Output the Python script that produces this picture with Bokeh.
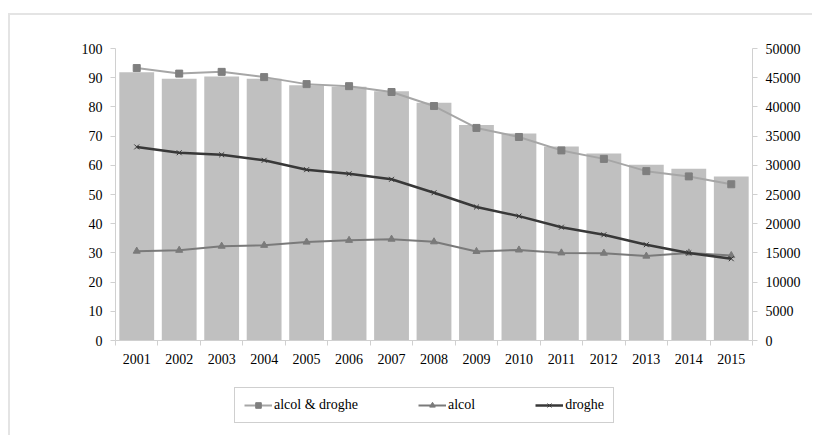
from bokeh.plotting import figure
from bokeh.layouts import column
from bokeh.models import Range1d, LinearAxis, FixedTicker, Legend, LegendItem
from bokeh.embed import file_html
from bokeh.resources import INLINE

years = [2001, 2002, 2003, 2004, 2005, 2006, 2007, 2008, 2009, 2010, 2011, 2012, 2013, 2014, 2015]
totale = [45950, 44800, 45200, 44800, 43700, 43450, 42700, 40700, 36900, 35450, 33200, 32000, 30100, 29400, 28100]
alcol_droghe = [93.3, 91.4, 92.0, 90.2, 87.8, 87.1, 85.1, 80.3, 72.8, 69.7, 65.1, 62.2, 58.0, 56.2, 53.5]
alcol = [30.6, 30.9, 32.3, 32.6, 33.7, 34.3, 34.7, 33.8, 30.5, 31.0, 30.0, 29.9, 28.9, 30.0, 29.1]
droghe = [66.3, 64.3, 63.6, 61.7, 58.5, 57.1, 55.2, 50.6, 45.7, 42.6, 38.8, 36.2, 32.8, 30.0, 28.0]
series_names = ["alcol & droghe", "alcol", "droghe"]
left_ticks = [0, 10, 20, 30, 40, 50, 60, 70, 80, 90, 100]
right_ticks = [0, 5000, 10000, 15000, 20000, 25000, 30000, 35000, 40000, 45000, 50000]

FONT = "'Liberation Serif', serif"

STYLES = [
    dict(line_color="#a6a6a6", line_width=2, marker="square", mcolor="#7f7f7f"),
    dict(line_color="#7a7a7a", line_width=2, marker="triangle", mcolor="#7a7a7a"),
    dict(line_color="#383838", line_width=2.5, marker="x", mcolor="#383838"),
]
SERIES = [alcol_droghe, alcol, droghe]


def draw_series(fig):
    rs = []
    for vals, st in zip(SERIES, STYLES):
        ln = fig.line(years, vals, line_color=st["line_color"], line_width=st["line_width"])
        if st["marker"] == "x":
            mk = fig.scatter(years, vals, marker="x", size=7, line_color=st["mcolor"], line_width=1)
        else:
            mk = fig.scatter(years, vals, marker=st["marker"], size=7,
                             fill_color=st["mcolor"], line_color=st["mcolor"])
        rs.append([ln, mk])
    return rs


p = figure(output_backend="svg", toolbar_location=None,
           frame_width=637, frame_height=292,
           min_border_left=105, min_border_right=60, min_border_top=33, min_border_bottom=40,
           x_range=Range1d(years[0] - 0.5, years[-1] + 0.5),
           y_range=Range1d(0, 100))
p.extra_y_ranges = {"right": Range1d(0, 50000)}
p.outline_line_color = None
p.grid.grid_line_color = None
p.background_fill_color = "white"
p.border_fill_color = "white"

# bars (right axis)
p.vbar(x=years, top=totale, width=0.82, bottom=0, fill_color="#c0c0c0",
       line_color=None, y_range_name="right")

# lines (left axis)
draw_series(p)


def style_axis(ax):
    ax.axis_line_color = "#d0d0d0"
    ax.major_tick_line_color = "#d0d0d0"
    ax.minor_tick_line_color = None
    ax.major_tick_in = 0
    ax.major_tick_out = 5
    ax.major_label_text_font = FONT
    ax.major_label_text_font_size = "14px"
    ax.major_label_text_color = "#000000"


xa = p.xaxis[0]
style_axis(xa)
xa.ticker = FixedTicker(ticks=years, minor_ticks=[y - 0.5 for y in years] + [years[-1] + 0.5])
xa.major_tick_line_color = None
xa.minor_tick_line_color = "#d0d0d0"
xa.minor_tick_in = 0
xa.minor_tick_out = 5
xa.major_label_standoff = 8

ya = p.yaxis[0]
style_axis(ya)
ya.ticker = FixedTicker(ticks=left_ticks)
ya.major_label_standoff = 8

ra = LinearAxis(y_range_name="right", ticker=FixedTicker(ticks=right_ticks))
style_axis(ra)
ra.major_label_standoff = 8
p.add_layout(ra, "right")

# legend strip: same series drawn out of view, only the legend shows
p2 = figure(output_backend="svg", toolbar_location=None,
            width=802, height=55, min_border=0,
            x_range=Range1d(0, 1), y_range=Range1d(0, 1))
p2.axis.visible = False
p2.grid.grid_line_color = None
p2.outline_line_color = None
p2.border_fill_color = "white"
rs2 = draw_series(p2)

legend = Legend(items=[LegendItem(label=n, renderers=r) for n, r in zip(series_names, rs2)],
                orientation="horizontal", location=(119, 12))
legend.label_text_font = FONT
legend.label_text_font_size = "14px"
legend.label_text_color = "#000000"
legend.border_line_color = "#a0a0a0"
legend.border_line_width = 1
legend.glyph_width = 28
legend.glyph_height = 14
legend.label_standoff = 2
legend.spacing = 60
legend.margin = 0
legend.padding = 9
legend.background_fill_alpha = 1
p2.add_layout(legend, "center")

layout = column(p, p2, spacing=0)
layout.styles = {"border-top": "2px solid #e4e4e4", "border-left": "2px solid #e4e4e4",
                 "margin-left": "8px", "margin-top": "13px"}

open("out.html", "w").write(file_html(layout, INLINE))
